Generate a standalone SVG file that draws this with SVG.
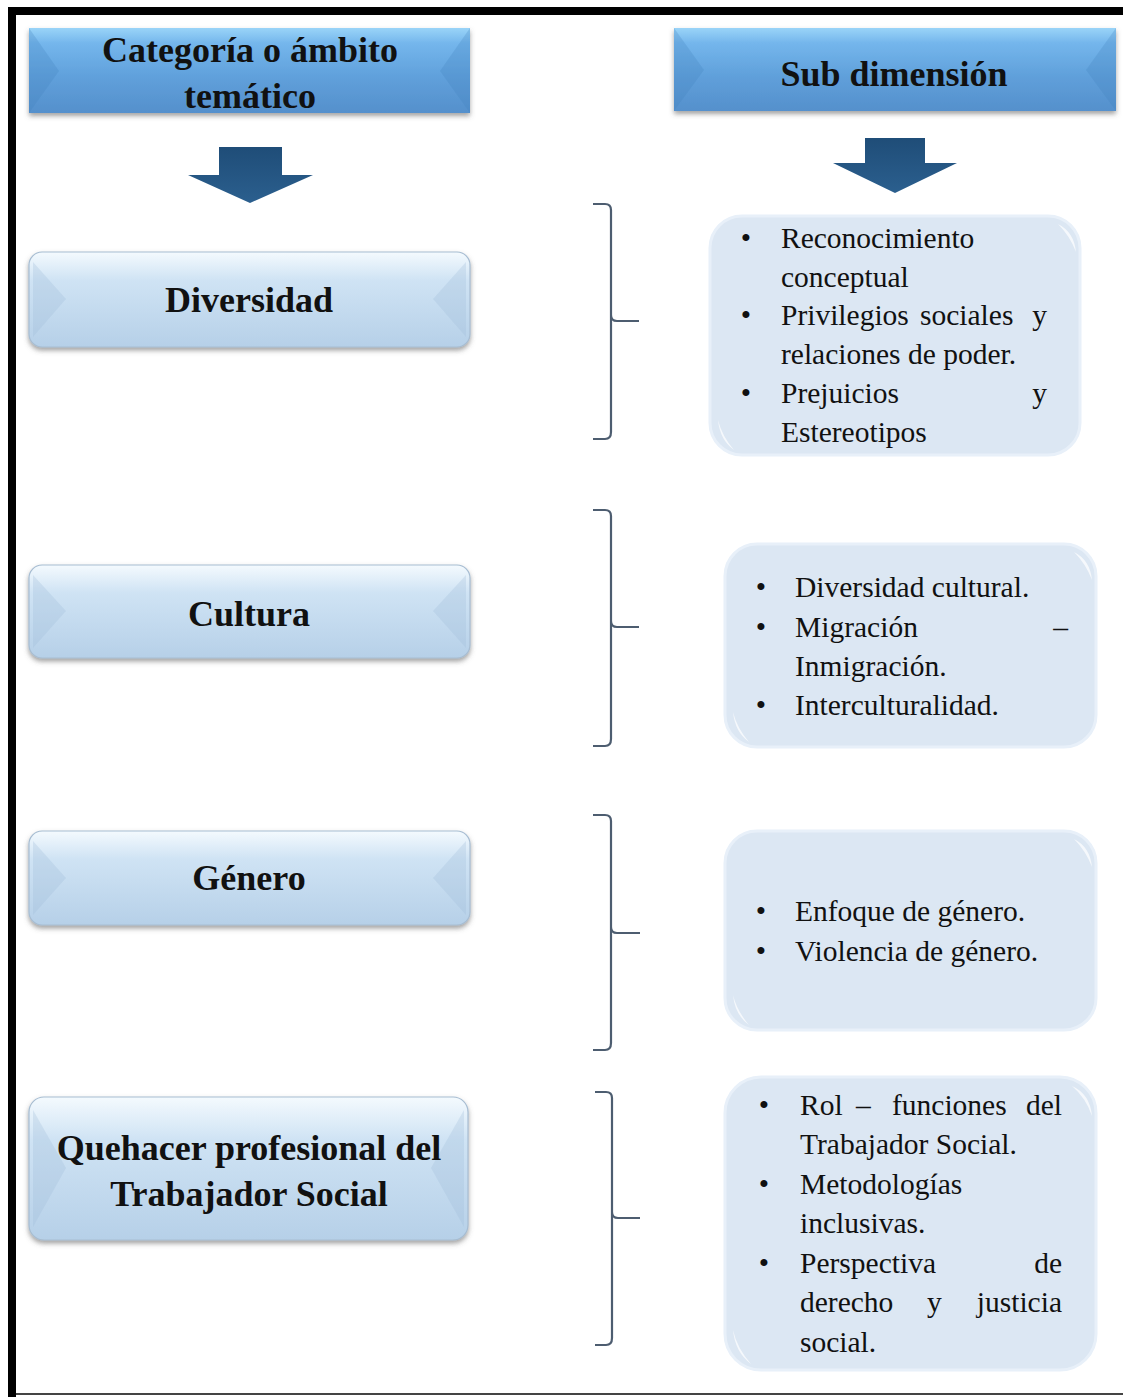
<svg xmlns="http://www.w3.org/2000/svg" width="1123" height="1397" viewBox="0 0 1123 1397">
<defs>
<linearGradient id="hdr" x1="0" y1="0" x2="0" y2="1">
<stop offset="0" stop-color="#9ad4f8"/>
<stop offset="0.18" stop-color="#74b6ec"/>
<stop offset="0.6" stop-color="#5f9fda"/>
<stop offset="1" stop-color="#5590cc"/>
</linearGradient>
<linearGradient id="cat" x1="0" y1="0" x2="0" y2="1">
<stop offset="0" stop-color="#f4fafe"/>
<stop offset="0.3" stop-color="#cfe3f4"/>
<stop offset="1" stop-color="#b6d0e8"/>
</linearGradient>
<linearGradient id="arr" x1="0" y1="0" x2="0" y2="1">
<stop offset="0" stop-color="#1f4d78"/>
<stop offset="1" stop-color="#2b5f8e"/>
</linearGradient>
<filter id="sh" x="-5%" y="-10%" width="110%" height="130%">
<feDropShadow dx="0" dy="3" stdDeviation="2.5" flood-color="#555" flood-opacity="0.55"/>
</filter>
</defs>
<style>
.h{font-family:"Liberation Serif","Times New Roman",serif;font-weight:bold;font-size:36px;fill:#111;text-anchor:middle}
.t{font-family:"Liberation Serif","Times New Roman",serif;font-size:29.5px;fill:#111}
.b{font-family:"Liberation Serif","Times New Roman",serif;font-size:29.5px;fill:#111;text-anchor:middle}
.e{text-anchor:end}
.bev{fill:#3f7fbd;opacity:0.25}
.cbev{fill:#9dbbd9;opacity:0.28}
.sub{fill:#dce7f3;stroke:#e8f0f9;stroke-width:3}
.hl{fill:#ffffff;opacity:0.7}
.br{fill:none;stroke:#4d5d70;stroke-width:2.2}
</style>
<rect width="1123" height="1397" fill="#fff"/>
<g id="frame">
<rect x="8" y="7" width="1115" height="8" fill="#000"/>
<rect x="8" y="7" width="8" height="1390" fill="#000"/>
<rect x="16" y="1393" width="1107" height="2" fill="#444"/>
</g>

<g id="hdr1">
<rect x="29" y="28" width="441" height="85" fill="url(#hdr)" filter="url(#sh)"/>
<polygon class="bev" points="29,28 59,71 29,113"/>
<polygon class="bev" points="470,28 440,71 470,113"/>
<text class="h" x="250" y="62">Categoría o ámbito</text>
<text class="h" x="250" y="108">temático</text>
</g>
<g id="hdr2">
<rect x="674" y="28" width="442" height="83" fill="url(#hdr)" filter="url(#sh)"/>
<polygon class="bev" points="674,28 704,70 674,111"/>
<polygon class="bev" points="1116,28 1086,70 1116,111"/>
<text class="h" x="894" y="86">Sub dimensión</text>
</g>

<g id="arrow1">
<polygon points="219,147 282,147 282,175 313,175 250,203 188,175 219,175" fill="url(#arr)"/>
</g>
<g id="arrow2">
<polygon points="865,138 925,138 925,163 957,163 895,193 833,163 865,163" fill="url(#arr)"/>
</g>

<g id="cat1">
<rect x="29" y="252" width="441" height="95" rx="13" fill="url(#cat)" stroke="#a7bdd2" stroke-width="1.2" filter="url(#sh)"/>
<polygon class="cbev" points="33,262 66,299 33,337"/>
<polygon class="cbev" points="466,262 433,299 466,337"/>
<text class="h" x="249" y="312">Diversidad</text>
</g>
<g id="cat2">
<rect x="29" y="565" width="441" height="93" rx="13" fill="url(#cat)" stroke="#a7bdd2" stroke-width="1.2" filter="url(#sh)"/>
<polygon class="cbev" points="33,575 66,611 33,648"/>
<polygon class="cbev" points="466,575 433,611 466,648"/>
<text class="h" x="249" y="626">Cultura</text>
</g>
<g id="cat3">
<rect x="29" y="831" width="441" height="94" rx="13" fill="url(#cat)" stroke="#a7bdd2" stroke-width="1.2" filter="url(#sh)"/>
<polygon class="cbev" points="33,841 66,878 33,915"/>
<polygon class="cbev" points="466,841 433,878 466,915"/>
<text class="h" x="249" y="890">Género</text>
</g>
<g id="cat4">
<rect x="29" y="1097" width="439" height="143" rx="15" fill="url(#cat)" stroke="#a7bdd2" stroke-width="1.2" filter="url(#sh)"/>
<polygon class="cbev" points="33,1110 66,1168 33,1227"/>
<polygon class="cbev" points="464,1110 431,1168 464,1227"/>
<text class="h" x="249" y="1160">Quehacer profesional del</text>
<text class="h" x="249" y="1206">Trabajador Social</text>
</g>

<g id="connectors">
<path class="br" d="M593,204 H605 Q611,204 611,210 V315 Q611,321 617,321 H639 M611,315 Q611,321 611,327 V432 Q611,439 605,439 H593"/>
<path class="br" d="M593,510 H605 Q611,510 611,516 V621 Q611,627 617,627 H639 M611,621 Q611,627 611,633 V739 Q611,746 605,746 H593"/>
<path class="br" d="M593,815 H605 Q611,815 611,821 V927 Q611,933 617,933 H640 M611,927 Q611,933 611,939 V1043 Q611,1050 605,1050 H593"/>
<path class="br" d="M595,1092 H606 Q612,1092 612,1098 V1212 Q612,1218 618,1218 H640 M612,1212 Q612,1218 612,1224 V1338 Q612,1345 606,1345 H595"/>
</g>

<g id="sub1">
<rect class="sub" x="710" y="216" width="370" height="239" rx="32"/>
<path class="hl" d="M1058,224 Q1074,232 1076,252 Q1070,236 1058,224 Z"/>
<path class="hl" d="M718,420 Q720,440 734,450 Q722,436 718,420 Z"/>
<text class="b" x="746" y="248">•</text>
<text class="t" x="781" y="248">Reconocimiento</text>
<text class="t" x="781" y="287">conceptual</text>
<text class="b" x="746" y="325">•</text>
<text class="t" x="781" y="325">Privilegios</text>
<text class="t" x="920" y="325">sociales</text>
<text class="t e" x="1047" y="325">y</text>
<text class="t" x="781" y="364">relaciones de poder.</text>
<text class="b" x="746" y="403">•</text>
<text class="t" x="781" y="403">Prejuicios</text>
<text class="t e" x="1047" y="403">y</text>
<text class="t" x="781" y="442">Estereotipos</text>
</g>

<g id="sub2">
<rect class="sub" x="725" y="544" width="371" height="203" rx="32"/>
<path class="hl" d="M1074,552 Q1090,560 1092,580 Q1086,564 1074,552 Z"/>
<path class="hl" d="M733,712 Q735,732 749,742 Q737,728 733,712 Z"/>
<text class="b" x="761" y="597">•</text>
<text class="t" x="795" y="597">Diversidad cultural.</text>
<text class="b" x="761" y="637">•</text>
<text class="t" x="795" y="637">Migración</text>
<text class="t e" x="1068" y="637">–</text>
<text class="t" x="795" y="676">Inmigración.</text>
<text class="b" x="761" y="715">•</text>
<text class="t" x="795" y="715">Interculturalidad.</text>
</g>

<g id="sub3">
<rect class="sub" x="725" y="831" width="371" height="199" rx="32"/>
<path class="hl" d="M1074,839 Q1090,847 1092,867 Q1086,851 1074,839 Z"/>
<path class="hl" d="M733,995 Q735,1015 749,1025 Q737,1011 733,995 Z"/>
<text class="b" x="761" y="921">•</text>
<text class="t" x="795" y="921">Enfoque de género.</text>
<text class="b" x="761" y="961">•</text>
<text class="t" x="795" y="961">Violencia de género.</text>
</g>

<g id="sub4">
<rect class="sub" x="725" y="1077" width="371" height="293" rx="36"/>
<path class="hl" d="M1072,1086 Q1090,1094 1092,1116 Q1086,1098 1072,1086 Z"/>
<path class="hl" d="M733,1330 Q735,1352 751,1364 Q737,1348 733,1330 Z"/>
<text class="b" x="764" y="1115">•</text>
<text class="t" x="800" y="1115">Rol</text>
<text class="t" x="856" y="1115">–</text>
<text class="t" x="892" y="1115">funciones</text>
<text class="t e" x="1062" y="1115">del</text>
<text class="t" x="800" y="1154">Trabajador Social.</text>
<text class="b" x="764" y="1194">•</text>
<text class="t" x="800" y="1194">Metodologías</text>
<text class="t" x="800" y="1233">inclusivas.</text>
<text class="b" x="764" y="1273">•</text>
<text class="t" x="800" y="1273">Perspectiva</text>
<text class="t e" x="1062" y="1273">de</text>
<text class="t" x="800" y="1312">derecho</text>
<text class="t" x="927" y="1312">y</text>
<text class="t e" x="1062" y="1312">justicia</text>
<text class="t" x="800" y="1352">social.</text>
</g>
</svg>
